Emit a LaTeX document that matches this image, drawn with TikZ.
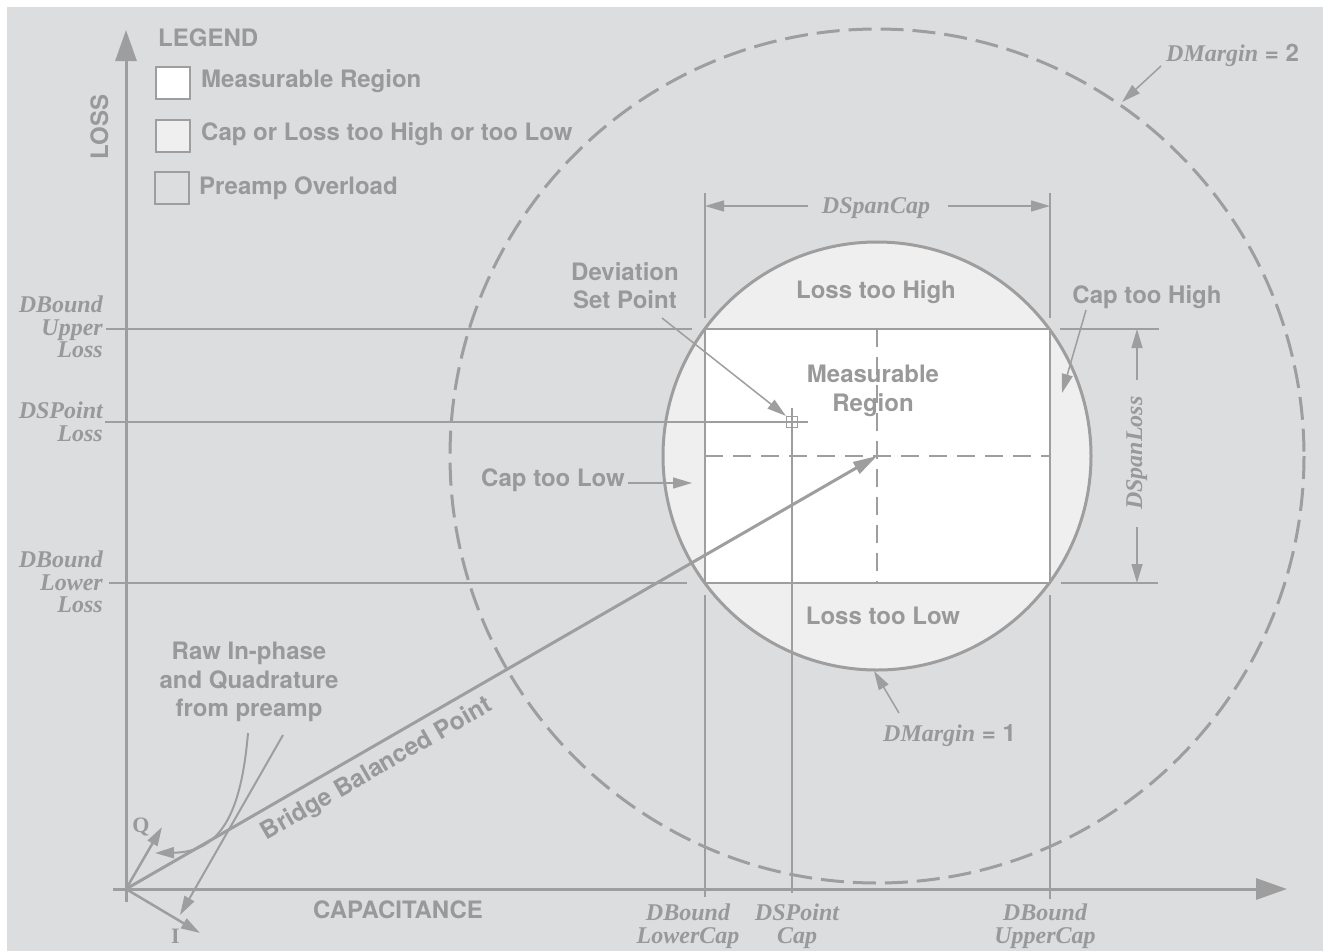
\documentclass[tikz,border=0pt]{standalone}
\usepackage{fontspec}
\setmainfont{TeX Gyre Heros}
\newfontfamily\tms{Liberation Serif}
\usetikzlibrary{arrows.meta}
\definecolor{bg}{RGB}{220,221,223}
\definecolor{ln}{RGB}{158,158,158}
\definecolor{tx}{RGB}{153,153,153}
\definecolor{lt}{RGB}{239,239,239}
\begin{document}
\begin{tikzpicture}[x=1pt,y=-1pt,
  sans/.style={font=\fontsize{24}{28.5}\selectfont\bfseries, text=tx, inner sep=0pt},
  ital/.style={font=\fontsize{24}{22.5}\selectfont\tms\bfseries\itshape, text=tx, inner sep=0pt},
  thinl/.style={draw=ln, line width=1.5pt},
  thickl/.style={draw=ln, line width=3pt},
  bigarrow/.style={-{Triangle[length=31pt,width=21pt]}},
  midarrow/.style={-{Triangle[length=24pt,width=13pt]}},
  smallarrow/.style={-{Triangle[length=19pt,width=11pt]}},
  legbox/.style={draw=ln, line width=1.5pt, minimum width=34pt, minimum height=32pt, inner sep=0pt},
]
\useasboundingbox (0,0) rectangle (1331,951);
\fill[white] (0,0) rectangle (1331,951);
\fill[bg] (7,7) rectangle (1323,951);

\coordinate (O) at (126,889);
\coordinate (C) at (877,456);

% outer dashed circle (DMargin = 2)
\draw[thickl, dash pattern=on 23pt off 9pt] (C) circle[radius=427];

% extension lines
\draw[thinl] (106,329) -- (692,329);
\draw[thinl] (1060,329) -- (1159,329);
\draw[thinl] (109,583) -- (687,583);
\draw[thinl] (1061,583) -- (1158,583);
\draw[thinl] (705,193) -- (705,318);
\draw[thinl] (1050,193) -- (1050,318);
\draw[thinl] (705,595) -- (705,897);
\draw[thinl] (1050,595) -- (1050,899);

% inner circle and measurable region
\draw[thickl, fill=lt] (C) circle[radius=214];
\draw[draw=ln, line width=2pt, fill=white] (705,329) rectangle (1050,583);
\draw[thinl, dash pattern=on 18pt off 10pt] (877,329) -- (877,583) (705,456) -- (1050,456);

% set point lines
\draw[thinl] (105,422) -- (808,422);
\draw[thinl] (792,408) -- (792,893);
\node[draw=ln, line width=1.2pt, minimum size=11pt, inner sep=0pt] (sp) at (792,422) {};

% axes
\draw[thickl, bigarrow] (126,902) -- (126,30);
\draw[thickl, bigarrow] (113,889) -- (1287,889);

% bridge balanced point
\draw[thickl, midarrow] (O) -- (C);
\node[sans, font=\fontsize{24.5}{28}\selectfont\bfseries, rotate=30, anchor=base] (bbp) at (380,775) {Bridge Balanced Point};

% Q and I vectors
\coordinate (qt) at (162,827);
\coordinate (it) at (200,933);
\draw[ln, line width=2.5pt, smallarrow] (O) -- (qt);
\draw[ln, line width=2.5pt, smallarrow] (O) -- (it);
\node[text=tx, font=\fontsize{22}{22}\selectfont\tms\bfseries, inner sep=0pt] (q) at (141,827) {Q};
\node[text=tx, font=\fontsize{22}{22}\selectfont\tms\bfseries, inner sep=0pt] (i) at (175.5,936) {I};

% raw in-phase / quadrature
\node[sans, align=center, anchor=north] (raw) at (249,642) {Raw In-phase\\and Quadrature\\from preamp};
\coordinate (r1s) at (248,733);
\coordinate (r1e) at (155,853);
\coordinate (r2s) at (283,735);
\coordinate (r2e) at (180,915);
\draw[ln, line width=2pt, smallarrow] (r1s) .. controls (241,815) and (220,852) .. (r1e);
\draw[ln, line width=2pt, smallarrow] (r2s) -- (r2e);

% legend
\node[sans, anchor=base west] (leg) at (158,46) {LEGEND};
\node[legbox, fill=white] (lg1) at (173,83) {};
\node[legbox, fill=lt] (lg2) at (173,136) {};
\node[legbox, fill=bg] (lg3) at (172,188) {};
\node[sans, anchor=base west] (lt1) at (201,87) {Measurable Region};
\node[sans, anchor=base west] (lt2) at (201,140) {Cap or Loss too High or too Low};
\node[sans, anchor=base west] (lt3) at (199,194) {Preamp Overload};

% axis titles
\node[sans, rotate=90, anchor=base] (loss) at (108,127) {LOSS};
\node[sans, anchor=base] (cap) at (398,918) {CAPACITANCE};

% left labels
\node[ital, align=right, anchor=north east] (dbul) at (103,296) {DBound\\Upper\\Loss};
\node[ital, align=right, anchor=north east] (dspl) at (103,402) {DSPoint\\Loss};
\node[ital, align=right, anchor=north east] (dbll) at (103,551) {DBound\\Lower\\Loss};

% bottom labels
\node[ital, align=center, anchor=north] (dblc) at (688,904) {DBound\\LowerCap};
\node[ital, align=center, anchor=north] (dspc) at (797,904) {DSPoint\\Cap};
\node[ital, align=center, anchor=north] (dbuc) at (1045,904) {DBound\\UpperCap};

% span dimensions
\node[ital, anchor=base] (dsc) at (876,213) {DSpanCap};
\coordinate (dscl1) at (808,206);
\coordinate (dscl2) at (705,206);
\coordinate (dscr1) at (948,206);
\coordinate (dscr2) at (1050,206);
\draw[thinl, smallarrow] (dscl1) -- (dscl2);
\draw[thinl, smallarrow] (dscr1) -- (dscr2);
\node[ital, rotate=90, anchor=base] (dsl) at (1142,453) {DSpanLoss};
\coordinate (dslu1) at (1137,380);
\coordinate (dslu2) at (1137,329);
\coordinate (dsld1) at (1137,527);
\coordinate (dsld2) at (1137,583);
\draw[thinl, smallarrow] (dslu1) -- (dslu2);
\draw[thinl, smallarrow] (dsld1) -- (dsld2);

% region labels
\node[sans, anchor=base] (lth) at (876,298) {Loss too High};
\node[sans, anchor=base] (ltl) at (883,624) {Loss too Low};
\node[sans, align=center, anchor=north] (mr) at (873,365) {Measurable\\Region};
\node[sans, align=center, anchor=north] (dev) at (625,262) {Deviation\\Set Point};
\coordinate (devs) at (662,318);
\draw[thinl, smallarrow] (devs) -- (sp.north west);

\node[sans, anchor=base] (cth) at (1147,303) {Cap too High};
\coordinate (cths) at (1086,310);
\coordinate (cthe) at (1062,393);
\draw[thinl, smallarrow] (cths) -- (cthe);

\node[sans, anchor=base] (ctl) at (553,486) {Cap too Low};
\coordinate (ctls) at (628,483);
\coordinate (ctle) at (692,483);
\draw[thinl, smallarrow] (ctls) -- (ctle);

% margins
\node[sans, anchor=base west] (dm1) at (883,741) {{\tms\itshape DMargin} = 1};
\coordinate (dm1s) at (899,713);
\coordinate (dm1e) at (874,671);
\draw[thinl, smallarrow] (dm1s) -- (dm1e);
\node[sans, anchor=base west] (dm2) at (1166,61) {{\tms\itshape DMargin} = 2};
\coordinate (dm2s) at (1161,66);
\coordinate (dm2e) at (1122,102);
\draw[thinl, smallarrow] (dm2s) -- (dm2e);
\end{tikzpicture}
\end{document}
